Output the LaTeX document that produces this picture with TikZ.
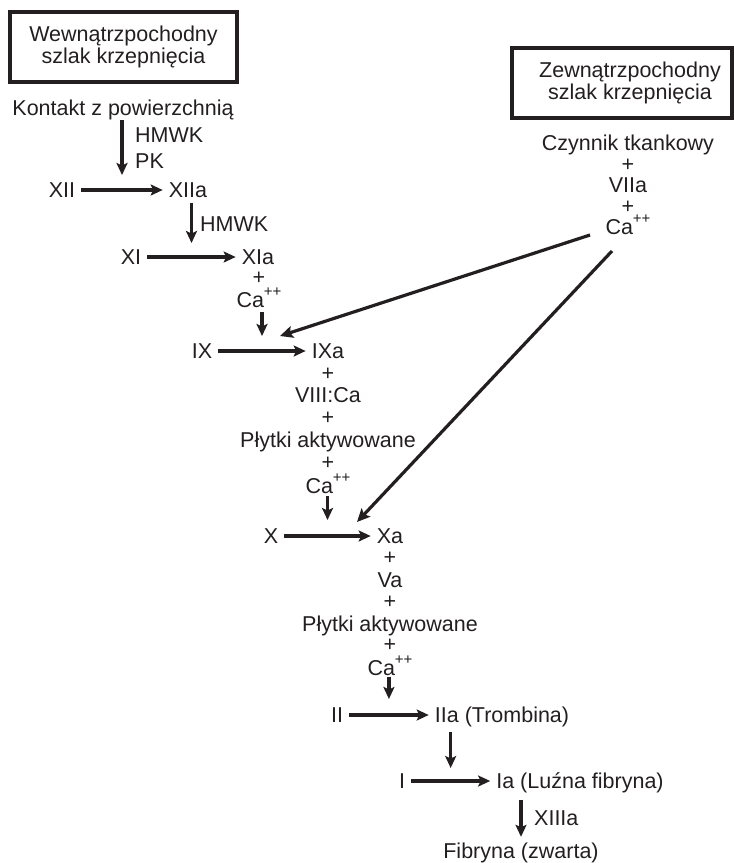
\documentclass[tikz,border=0pt]{standalone}
\usepackage{fontspec}
\setmainfont{Liberation Sans}
\usetikzlibrary{arrows.meta,calc}
\definecolor{ink}{RGB}{35,31,32}
% calcium ion with raised charge
\newcommand\capp{Ca\raisebox{11pt}{\fontsize{15}{15}\selectfont ++}}

\begin{document}
\begin{tikzpicture}[x=1pt,y=-1pt,
  every node/.style={font=\fontsize{21.5}{22}\selectfont, text=ink},
  lbl/.style={inner xsep=6pt, inner ysep=0pt, text height=15pt, text depth=0pt},
  side/.style={lbl, anchor=west, inner xsep=0pt},
  pathbox/.style={draw=ink, line width=3.5pt, inner sep=0pt},
  arr/.style={draw=ink, line width=3.2pt, -{Stealth[length=12pt,width=11pt,inset=2.5pt]}},
  link/.style={draw=ink, line width=3.2pt, -{Stealth[length=13pt,width=12pt,inset=2.5pt]}},
]
\useasboundingbox (0,0) rectangle (734,863);

% pathway headers
\node[pathbox, minimum width=227pt, minimum height=70pt, align=center] (intbox) at (123.5,47) {Wewnątrzpochodny\\szlak krzepnięcia};
\node[pathbox, minimum width=220pt, minimum height=70pt] (extbox) at (622,83) {};
\node[align=center, inner sep=0pt] (exttxt) at (630,83) {Zewnątrzpochodny\\szlak krzepnięcia};

% intrinsic cascade
\node[lbl] (kont) at (123,108) {Kontakt z powierzchnią};
\node[lbl] (xii)  at (62,190)  {XII};
\node[lbl] (xiia) at (188,190) {XIIa};
\node[lbl] (xi)   at (131,257) {XI};
\node[lbl] (xia)  at (258,257) {XIa};
\node[lbl] (p1)   at (259,277) {+};
\node[lbl] (ca1)  at (259,300) {\capp};
\node[lbl] (ix)   at (202,351) {IX};
\node[lbl] (ixa)  at (328,351) {IXa};
\node[lbl] (p2)   at (328,373) {+};
\node[lbl] (viii) at (328,395) {VIII:Ca};
\node[lbl] (p3)   at (328,417) {+};
\node[lbl] (pl1)  at (328,440) {Płytki aktywowane};
\node[lbl] (p4)   at (328,462) {+};
\node[lbl] (ca2)  at (328,486) {\capp};

% common pathway
\node[lbl] (x)    at (271,536) {X};
\node[lbl] (xa)   at (390,536) {Xa};
\node[lbl] (p5)   at (390,557) {+};
\node[lbl] (va)   at (390,580) {Va};
\node[lbl] (p6)   at (390,601) {+};
\node[lbl] (pl2)  at (390,624) {Płytki aktywowane};
\node[lbl] (p7)   at (390,644) {+};
\node[lbl] (ca3)  at (390,668) {\capp};
\node[lbl] (ii)   at (337,715) {II};
\node[lbl] (iia)  at (502,715) {IIa (Trombina)};
\node[lbl] (i)    at (402,781) {I};
\node[lbl] (ia)   at (580,781) {Ia (Luźna fibryna)};
\node[lbl] (fib)  at (521,851) {Fibryna (zwarta)};

% extrinsic complex
\node[lbl] (tf)   at (628,143) {Czynnik tkankowy};
\node[lbl] (p8)   at (628,164) {+};
\node[lbl] (viia) at (628,185) {VIIa};
\node[lbl] (p9)   at (628,206) {+};
\node[lbl] (ca4)  at (628,227) {\capp};

% cofactor labels
\node[side] (hmwk1) at (135,135) {HMWK};
\node[side] (pk)    at (135,161) {PK};
\node[side] (hmwk2) at (200,224) {HMWK};
\node[side] (xiiia) at (534,818) {XIIIa};

% conversions
\draw[arr] (xii) -- (xiia) coordinate[midway] (m1);
\draw[arr] (xi) -- (xia) coordinate[midway] (m2);
\draw[arr] (ix) -- (ixa) coordinate[midway] (m3);
\draw[arr] (x) -- (xa) coordinate[midway] (m4);
\draw[arr] (ii) -- (iia) coordinate[midway] (m5);
\draw[arr] (i) -- (ia) coordinate[midway] (m6);

% activations acting on each conversion
\draw[arr, shorten <=4.5pt, shorten >=15pt] (kont.south -| m1) -- (m1);
\draw[arr, shorten <=5pt, shorten >=14pt] (xiia.south -| m2) -- (m2);
\draw[arr, shorten <=4.5pt, shorten >=15pt] (ca1.south -| m3) -- (m3);
\draw[arr, shorten <=2.5pt, shorten >=16pt] (ca2.south -| m4) -- (m4);
\draw[arr, shorten <=1pt, shorten >=16pt] (ca3.south -| m5) -- (m5);
\draw[arr, shorten <=9.5pt, shorten >=13pt] (iia.south -| m6) -- (m6);
\draw[arr, shorten <=11.5pt, shorten >=6.5pt] (ia.south -| fib.north) -- (fib.north);

% extrinsic complex feeding IX and X
\coordinate (s1) at (590,235);
\coordinate (t1) at (280,336);
\coordinate (s2) at (612,251);
\coordinate (t2) at (357,522);
\draw[link] (s1) -- (t1);
\draw[link] (s2) -- (t2);
\end{tikzpicture}
\end{document}
